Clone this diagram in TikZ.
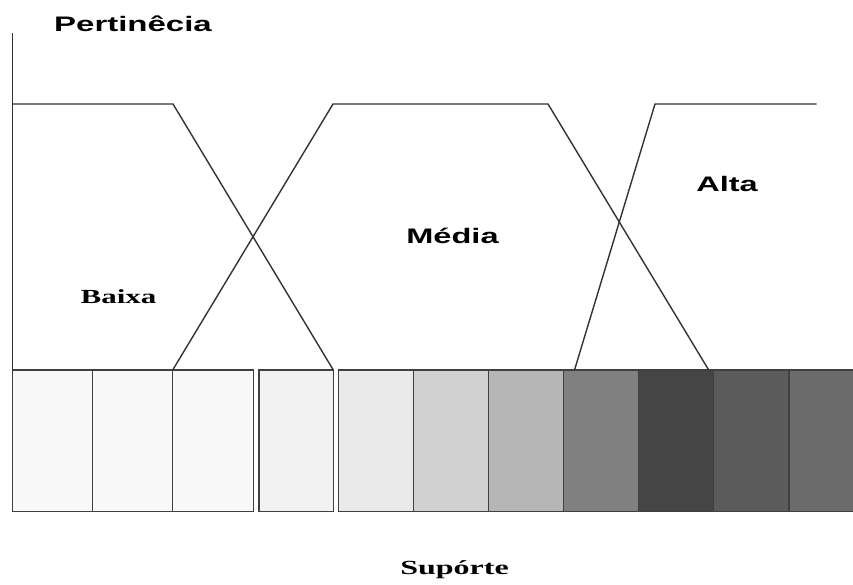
\documentclass[tikz,border=0pt]{standalone}
\usepackage{fontspec}
\setmainfont{Liberation Serif}
\setsansfont{Liberation Sans}
\begin{document}
\begin{tikzpicture}[x=1pt,y=-1pt,
  mf/.style={draw=black!80,line width=1.4pt},
  cell/.style={draw=black!75,line width=1.5pt},
  sanslbl/.style={inner sep=0pt,anchor=base,font=\sffamily\bfseries\fontsize{21}{24}\selectfont},
  seriflbl/.style={inner sep=0pt,anchor=base,font=\rmfamily\bfseries\fontsize{20}{24}\selectfont}]
\useasboundingbox[fill=white] (0,0) rectangle (853,584);
% cells
\foreach \a/\b/\c in {12.5/92.3/F9F9F9,92.3/172.7/F9F9F9,172.7/253.3/F9F9F9,259/333.3/F2F2F2,338.3/413.3/EAEAEA,413.3/488.3/D2D2D2,488.3/563.3/B6B6B6,563.3/638.3/808080,638.3/713.3/454545,713.3/789/5B5B5B,789/858/6B6B6B}{
  \definecolor{cc}{HTML}{\c}
  \draw[cell,fill=cc] (\a,370) rectangle (\b,511.7);
}
% axis
\coordinate (axtop) at (12.5,33);
\coordinate (axbot) at (12.5,370);
\draw[mf] (axtop) -- (axbot);
% membership functions
\coordinate (b1) at (12.5,104);
\coordinate (b2) at (173,104);
\coordinate (b3) at (333.3,370);
\coordinate (m1) at (172.7,370);
\coordinate (m2) at (333,104);
\coordinate (m3) at (548,104);
\coordinate (m4) at (708.7,370);
\coordinate (a1) at (574.5,370);
\coordinate (a2) at (655,104);
\coordinate (a3) at (816.5,104);
\draw[mf] (b1) -- (b2) -- (b3);
\draw[mf] (m1) -- (m2) -- (m3) -- (m4);
\draw[mf] (a1) -- (a2) -- (a3);
% labels
\node[sanslbl] (pert) at (133,31.7) {\scalebox{1.57}[1]{Pertinêcia}};
\node[sanslbl] (media) at (452.5,243) {\scalebox{1.55}[1]{Média}};
\node[sanslbl] (alta) at (727,191) {\scalebox{1.55}[1]{Alta}};
\node[seriflbl] (baixa) at (118.5,303) {\scalebox{1.55}[1]{Baixa}};
\node[seriflbl] (sup) at (454.5,574) {\scalebox{1.6}[1]{Supórte}};
\end{tikzpicture}
\end{document}
